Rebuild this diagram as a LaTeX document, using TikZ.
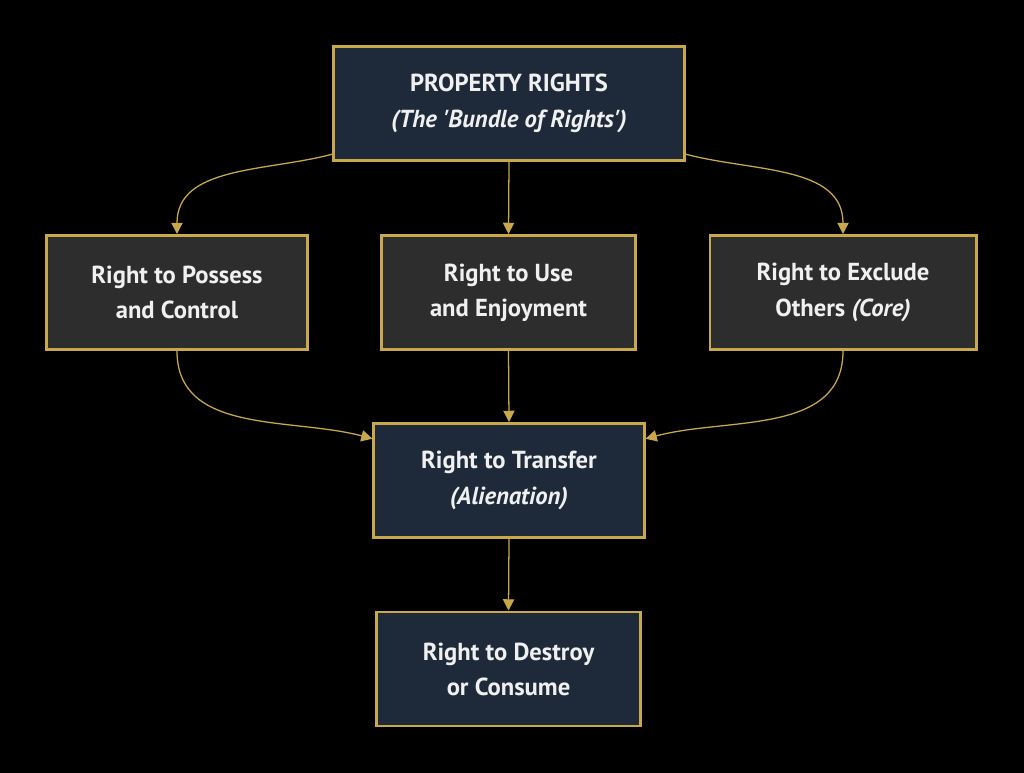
\documentclass[tikz,border=0pt]{standalone}
\usepackage{fontspec}
\setmainfont{PT Sans}
\usetikzlibrary{arrows.meta}
\definecolor{gold}{RGB}{201,168,76}
\definecolor{navy}{RGB}{30,42,58}
\definecolor{slate}{RGB}{45,45,45}
\definecolor{paper}{RGB}{240,240,240}
\begin{document}
\begin{tikzpicture}[x=0.025cm,y=-0.025cm,
    box/.style={draw=gold,line width=2.1pt,text=paper,align=center,
      font=\fontsize{17.5}{25}\selectfont\bfseries,minimum height=2.85cm},
    mainbox/.style={box,fill=navy},
    subbox/.style={box,fill=slate},
    link/.style={draw=gold,line width=0.9pt,-{Triangle[length=8pt,width=8pt]}}]
                \fill[black] (0,0) rectangle (1024,773);

                \node[mainbox,minimum width=8.75cm] (rights) at (509,103.5) {PROPERTY RIGHTS\\\textit{(The \textquotesingle Bundle of Rights\textquotesingle)}};
                \node[subbox,minimum width=6.5cm] (possess) at (177,292.5) {Right to Possess\\and Control};
                \node[subbox,minimum width=6.33cm] (use) at (508.5,292.5) {Right to Use\\and Enjoyment};
                \node[subbox,minimum width=6.65cm] (exclude) at (843,292.5) {Right to Exclude\\Others \textit{(Core)}};
                \node[mainbox,minimum width=6.75cm] (transfer) at (509,480.5) {Right to Transfer\\\textit{(Alienation)}};
                \node[mainbox,minimum width=6.58cm] (destroy) at (508.5,669) {Right to Destroy\\or Consume};

                \draw[link] (rights.196) to[out=195,in=90] (possess.north);
                \draw[link] (rights.south) to (use.north);
                \draw[link] (rights.-16) to[out=-15,in=90] (exclude.north);
                \draw[link] (possess.south) to[out=-90,in=165] (transfer.163);
                \draw[link] (use.south) to (transfer.north);
                \draw[link] (exclude.south) to[out=-90,in=15] (transfer.17);
                \draw[link] (transfer.south) to (destroy.north);
            \end{tikzpicture}
\end{document}
